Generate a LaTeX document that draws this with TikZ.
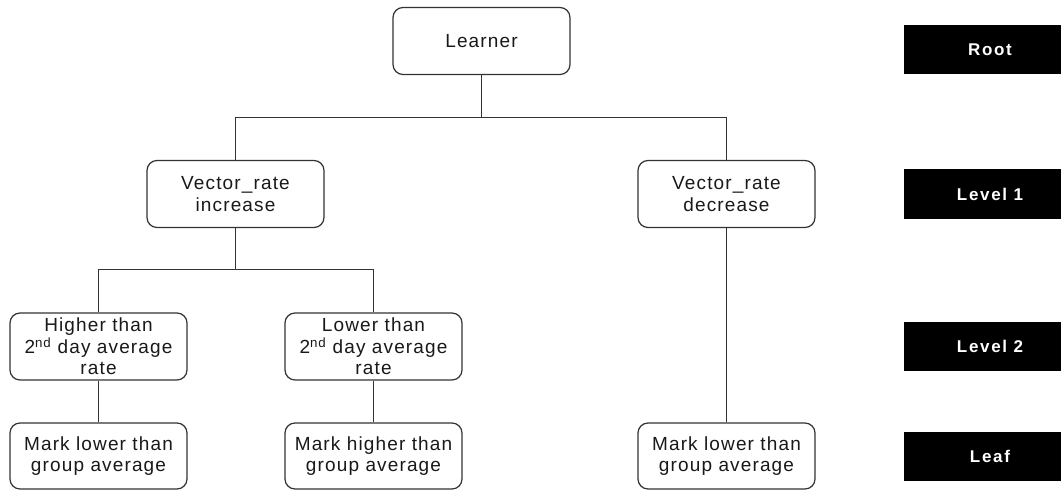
\documentclass[tikz,border=0pt]{standalone}
\usepackage{fontspec}
\setmainfont{Liberation Sans}
\newfontfamily\boxfont[LetterSpace=6]{Liberation Sans}
\newfontfamily\lvlfont[LetterSpace=10]{Liberation Sans}
\begin{document}
\begin{tikzpicture}[x=1pt,y=-1pt,
  tbox/.style={draw=black!80, line width=1.2pt, rounded corners=10pt, fill=white,
    minimum width=177pt, minimum height=67pt, align=center, inner sep=2pt,
    font=\boxfont\fontsize{19}{21.5}\selectfont, text=black!90},
  lvl/.style={fill=black, text=white, font=\lvlfont\bfseries\fontsize{17}{20}\selectfont},
  conn/.style={draw=black!80, line width=1.2pt}]
\useasboundingbox (0,0) rectangle (1061,490);
% tree nodes
\node[tbox] (learner) at (481.5,41) {Learner};
\node[tbox] (vri) at (235.5,194) {Vector\_rate\\increase};
\node[tbox] (vrd) at (726.5,194) {Vector\_rate\\decrease};
\node[tbox] (hi) at (98.5,346.5) {Higher than\\2\textsuperscript{nd} day average\\rate};
\node[tbox] (lo) at (373.5,346.5) {Lower than\\2\textsuperscript{nd} day average\\rate};
\node[tbox, minimum height=66pt] (leafa) at (98.5,456) {Mark lower than\\group average};
\node[tbox, minimum height=66pt] (leafb) at (373.5,456) {Mark higher than\\group average};
\node[tbox, minimum height=66pt] (leafc) at (726.5,456) {Mark lower than\\group average};
% connectors
\draw[conn] (learner.south) -- ++(0,42) -| (vri.north);
\draw[conn] (learner.south) ++(0,42) -| (vrd.north);
\draw[conn] (vri.south) -- ++(0,41) -| (hi.north);
\draw[conn] (vri.south) ++(0,41) -| (lo.north);
\draw[conn] (hi) -- (leafa);
\draw[conn] (lo) -- (leafb);
\draw[conn] (vrd) -- (leafc);
% level labels
\fill[black] (904,25) rectangle (1061,74);
\node[lvl] (root) at (990,49.5) {Root};
\fill[black] (904,169) rectangle (1061,219);
\node[lvl] (l1) at (990,194) {Level 1};
\fill[black] (904,322) rectangle (1061,371);
\node[lvl] (l2) at (990,346.5) {Level 2};
\fill[black] (904,432) rectangle (1061,481);
\node[lvl] (leaf) at (990,456.5) {Leaf};
\end{tikzpicture}
\end{document}
